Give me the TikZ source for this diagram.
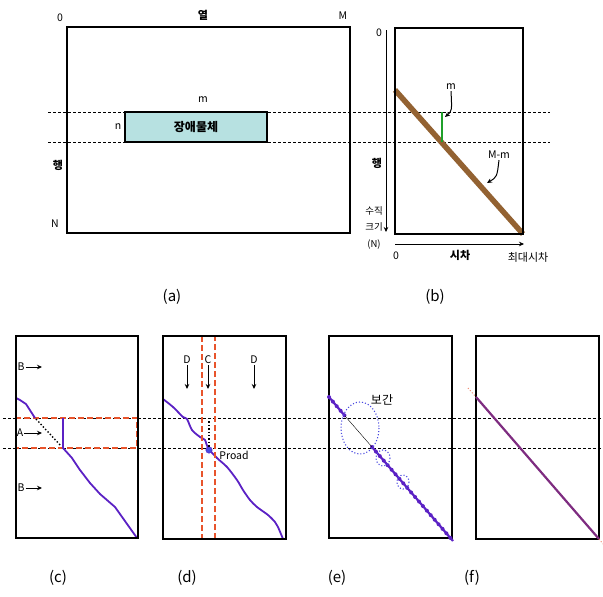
\documentclass[tikz,border=0pt]{standalone}
\usepackage{fontspec}
\setmainfont{Noto Sans CJK KR}
\usetikzlibrary{arrows.meta}

\definecolor{roadviolet}{HTML}{5B21C4}
\definecolor{dispbrown}{HTML}{936232}
\definecolor{dispgreen}{HTML}{1FA02A}
\definecolor{obstcyan}{HTML}{B7E1E1}
\definecolor{guidered}{HTML}{E8542C}
\definecolor{finalpurple}{HTML}{7E2C80}
\definecolor{ellblue}{HTML}{4A4AE0}

\begin{document}
\begin{tikzpicture}[x=1pt, y=-1pt,
    frame/.style={draw, line width=1.4pt},
    guide/.style={dash pattern=on 3pt off 2pt, line width=0.6pt},
    redbox/.style={draw=guidered, line width=1.4pt, dash pattern=on 6pt off 3pt},
    lbl/.style={inner sep=1pt, font=\fontsize{10.5}{11}\selectfont},
    small lbl/.style={inner sep=1pt, font=\fontsize{9.5}{16.5}\selectfont},
    bold lbl/.style={inner sep=1pt, font=\fontsize{11}{12}\selectfont\bfseries},
    capt/.style={font=\fontsize{15}{16}\selectfont},
    tip/.style={-{Stealth[length=5pt,width=4.5pt]}, line width=1pt}]
    \useasboundingbox (0,0) rectangle (603,597);

    % 기준선
    \draw[guide] (48,112) -- (550,112);
    \draw[guide] (48,142) -- (550,142);
    \draw[guide] (3,418) -- (603,418);
    \draw[guide] (3,448) -- (603,448);

    % (a) 영상
    \draw[frame] (67,27) rectangle (350,233);
    \node[lbl] (a0) at (60,18) {0};
    \node[bold lbl] (acol) at (203,15) {열};
    \node[lbl] (aM) at (343,16) {M};
    \node[bold lbl] (arow) at (58,165) {행};
    \node[lbl] (aN) at (55,224) {N};
    \node[draw, fill=obstcyan, line width=1.2pt, minimum width=142pt, minimum height=30pt, inner sep=0pt,
          font=\fontsize{12}{13}\selectfont\bfseries] (obst) at (196,127) {장애물체};
    \node[lbl] (am) at (203,100) {m};
    \node[lbl] (an) at (118,127) {n};

    % (b) 시차 영상
    \draw[dispbrown, line width=5.5pt] (395,90) -- (523,234);
    \draw[dispgreen, line width=2.5pt] (442,112) -- (442,142);
    \draw[frame] (395,28) rectangle (523,234);
    \node[lbl] (bm) at (451,87) {m};
    \coordinate (bmtip) at (445,117);
    \draw[tip] (bm.south) .. controls (452,111) .. (bmtip);
    \node[lbl] (bMm) at (499,155) {M-m};
    \coordinate (bMmtip) at (487,183);
    \draw[tip] (bMm.south) .. controls (497,177) .. (bMmtip);
    \coordinate (vtop) at (386,30);
    \coordinate (vbot) at (386,232);
    \draw[tip, line width=0.6pt] (vtop) -- (vbot);
    \coordinate (hleft) at (395,244);
    \coordinate (hright) at (524,244);
    \draw[tip, line width=0.6pt] (hleft) -- (hright);
    \node[lbl] (b0) at (379,33) {0};
    \node[bold lbl] (brow) at (377,163) {행};
    \node[small lbl, align=center] (bsize) at (374,228) {수직\\크기\\(N)};
    \node[lbl] (bx0) at (396,256) {0};
    \node[bold lbl] (bdisp) at (460,255) {시차};
    \node[inner sep=1pt, font=\fontsize{11}{12}\selectfont] (bmax) at (528,257) {최대시차};

    % (c)
    \draw[redbox] (16,418) rectangle (137,448);
    \draw[roadviolet, line width=1.8pt] (16,398) -- (20,400) -- (26,404) -- (35,418);
    \draw[dotted, line width=1.4pt] (36,419) -- (61,446);
    \draw[roadviolet, line width=1.8pt] (63,418) -- (63,448) -- (72,458) -- (80,470) -- (90,483)
        -- (100,494) -- (115,507) -- (137,538);
    \draw[frame] (16,336) rectangle (138,538);
    \node[lbl] (cb1) at (21,367) {B};
    \coordinate (cb1t) at (42,367);
    \draw[tip] (cb1) -- (cb1t);
    \node[lbl] (ca) at (20,433) {A};
    \coordinate (cat) at (42,433);
    \draw[tip] (ca) -- (cat);
    \node[lbl] (cb2) at (21,488) {B};
    \coordinate (cb2t) at (42,488);
    \draw[tip] (cb2) -- (cb2t);

    % (d)
    \draw[roadviolet, line width=1.8pt] plot[smooth, tension=0.5] coordinates {(163,399) (173,407) (183,417)
        (187,419) (192,430) (200,437) (205,440) (208,448) (217,458) (227,467) (237,480) (243,490)
        (250,500) (257,507) (268,515) (275,522) (278,527) (283,539)};
    \draw[redbox] (202,336) rectangle (215,539);
    \draw[frame] (163,336) rectangle (286,539);
    \node[circle, fill=ellblue, draw=roadviolet, inner sep=0pt, minimum size=6.5pt] (proadpt) at (209,450) {};
    \coordinate (dtop) at (209,418);
    \draw[dotted, line width=1.4pt] (dtop) -- (proadpt);
    \node[lbl] (proad) at (234,455) {Proad};
    \node[lbl] (dd1) at (187,360) {D};
    \coordinate (dd1t) at (187,389);
    \draw[tip] (dd1) -- (dd1t);
    \node[lbl] (dc) at (208,360) {C};
    \coordinate (dct) at (208,389);
    \draw[tip] (dc) -- (dct);
    \node[lbl] (dd2) at (254,360) {D};
    \coordinate (dd2t) at (254,389);
    \draw[tip] (dd2) -- (dd2t);

    % (e)
    \draw[frame] (329,336) rectangle (452,538);
    \draw[roadviolet, line width=2.2pt] (329,397) -- (345,416);
    \draw[roadviolet, line width=2.2pt] (372,447) -- (453,541);
    \draw[roadviolet, line width=4pt, line cap=round, dash pattern=on 0pt off 6pt] (329,397) -- (345,416);
    \draw[roadviolet, line width=4pt, line cap=round, dash pattern=on 0pt off 6pt] (372,447) -- (453,541);
    \draw[line width=0.4pt] (345,416) -- (372,447);
    \draw[ellblue, dotted, line width=1.1pt] (360,428) ellipse [x radius=19, y radius=26];
    \draw[ellblue, dotted, line width=1.1pt] (383,458) ellipse [x radius=7, y radius=8];
    \draw[ellblue, dotted, line width=1.1pt] (403,482) ellipse [x radius=6, y radius=7];
    \node[inner sep=1pt, font=\fontsize{12}{13}\selectfont] (interp) at (382,400) {보간};

    % (f)
    \draw[frame] (476,336) rectangle (599,539);
    \draw[finalpurple, line width=2.2pt] (476,397) -- (599,539);
    \draw[guidered!70, dotted, line width=1pt] (468,388) -- (476,397);
    \draw[guidered!70, dotted, line width=1pt] (599,539) -- (603,544);

    % 캡션
    \node[capt] (capa) at (172,297) {(a)};
    \node[capt] (capb) at (435,297) {(b)};
    \node[capt] (capc) at (58,578) {(c)};
    \node[capt] (capd) at (187,578) {(d)};
    \node[capt] (cape) at (337,578) {(e)};
    \node[capt] (capf) at (472,578) {(f)};

\end{tikzpicture}
\end{document}
